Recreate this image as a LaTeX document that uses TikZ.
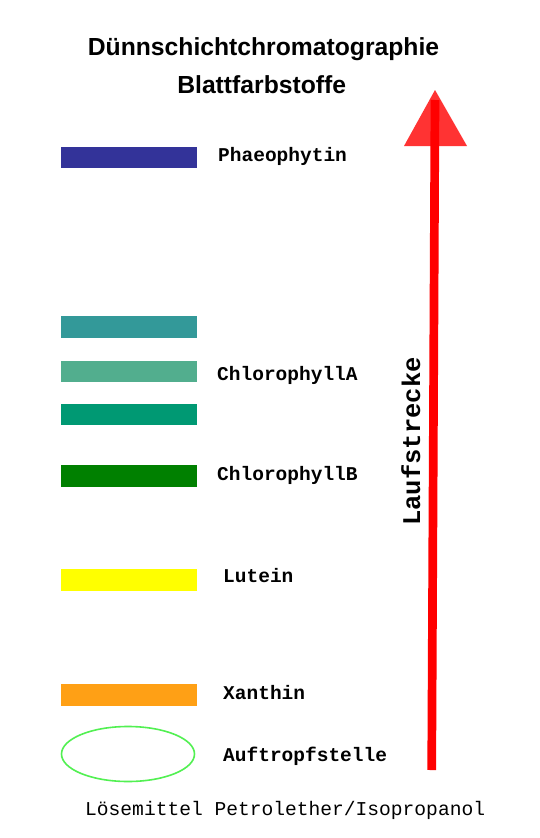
\documentclass[tikz,border=0pt]{standalone}
\usepackage{fontspec}
\newfontfamily\titlefont{Liberation Sans Bold}
\newfontfamily\labelfont{Liberation Mono Bold}
\newfontfamily\monofont{Liberation Mono}
\usetikzlibrary{shapes.geometric}
\definecolor{cPhaeo}{HTML}{333399}
\definecolor{cBarA}{HTML}{339999}
\definecolor{cBarB}{HTML}{52AE8E}
\definecolor{cBarC}{HTML}{009973}
\definecolor{cChlB}{HTML}{008000}
\definecolor{cLut}{HTML}{FFFF00}
\definecolor{cXan}{HTML}{FFA015}
\definecolor{cSpot}{RGB}{82,240,82}
\definecolor{cArrow}{HTML}{FF0000}
\tikzset{
  bar/.style={rectangle, inner sep=0pt, minimum width=136pt, minimum height=21.6pt, fill=#1},
  lbl/.style={anchor=base west, inner sep=0pt, font=\labelfont\fontsize{19.5pt}{19.5pt}\selectfont},
  ttl/.style={anchor=base, inner sep=0pt, font=\titlefont\fontsize{24.7pt}{24.7pt}\selectfont},
}
\begin{document}
\begin{tikzpicture}[x=1pt,y=-1pt]
\useasboundingbox (0,0) rectangle (539,838);
\fill[white] (0,0) rectangle (539,838);
% titles
\node[ttl] (t1) at (263.5,55) {Dünnschichtchromatographie};
\node[ttl] (t2) at (261.7,93) {Blattfarbstoffe};
% bars
\node[bar=cPhaeo] (b1) at (128.7,157.5) {};
\node[bar=cBarA] (b2) at (128.7,326.8) {};
\node[bar=cBarB] (b3) at (128.7,371.4) {};
\node[bar=cBarC] (b4) at (128.7,414.5) {};
\node[bar=cChlB] (b5) at (128.7,476.2) {};
\node[bar=cLut] (b6) at (128.7,579.8) {};
\node[bar=cXan] (b7) at (128.7,694.8) {};
\node[ellipse, draw=cSpot, line width=1.6pt, minimum width=133pt, minimum height=55pt, inner sep=0pt] (spot) at (128,754) {};
% labels
\node[lbl] (l1) at (218,161.7) {Phaeophytin};
\node[lbl] (l3) at (217,380) {ChlorophyllA};
\node[lbl] (l5) at (217,480) {ChlorophyllB};
\node[lbl] (l6) at (223,582) {Lutein};
\node[lbl] (l7) at (223,699) {Xanthin};
\node[lbl] (l8) at (223,761) {Auftropfstelle};
\node[anchor=base west, inner sep=0pt, font=\monofont\fontsize{19.6pt}{19.6pt}\selectfont] (solv) at (85,815) {Lösemittel Petrolether/Isopropanol};
% arrow
\coordinate (apex) at (435,90);
\coordinate (baseL) at (404,146);
\coordinate (baseR) at (467,146);
\coordinate (shaftTop) at (435,100);
\coordinate (shaftBot) at (431.7,770);
\fill[cArrow, opacity=0.8] (apex) -- (baseL) -- (baseR) -- cycle;
\draw[cArrow, line width=8.7pt] (shaftBot) -- (shaftTop);
\node[rotate=90, anchor=base, inner sep=0pt, font=\labelfont\fontsize{25.5pt}{25.5pt}\selectfont] (lauf) at (420,441.5) {Laufstrecke};
\end{tikzpicture}
\end{document}
